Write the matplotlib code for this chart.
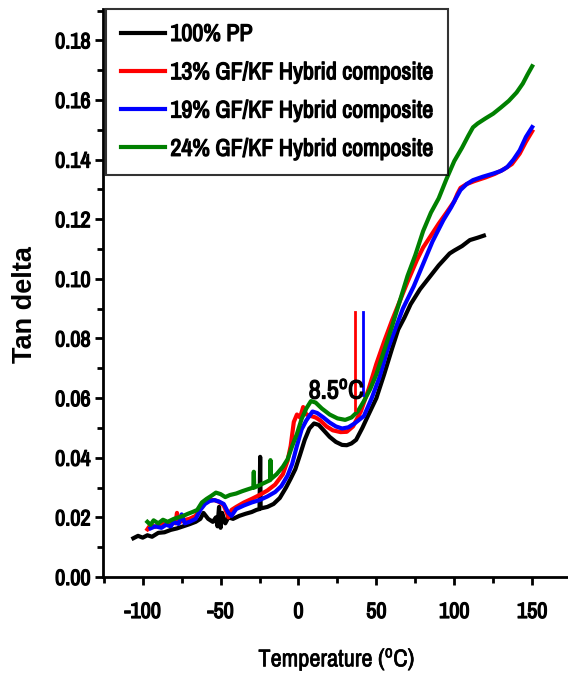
import matplotlib
matplotlib.use("Agg")
import matplotlib.pyplot as plt
import matplotlib.patheffects as pe
from matplotlib import font_manager
from matplotlib.ticker import MultipleLocator

# ---------------- data ----------------
labels = ["100% PP", "13% GF/KF Hybrid composite",
          "19% GF/KF Hybrid composite", "24% GF/KF Hybrid composite"]
colors = ["black", "red", "blue", "green"]

pp_T = [-106, -103, -100, -97, -94, -90, -86, -82, -78, -74, -70, -66, -63, -61,
        -58, -55, -53, -52, -51, -50, -49, -47, -45, -42, -38, -34, -30, -27, -25,
        -24.6, -24.3, -20, -16, -12, -8, -5, -2, 1, 4, 7, 10, 13, 16, 20, 24, 28,
        31, 34, 37, 41, 45, 50, 55, 60, 64, 68, 72, 78, 84, 90, 97, 100, 105, 110,
        115, 119]
pp_v = [0.0130, 0.0138, 0.0132, 0.0140, 0.0135, 0.0148, 0.0150, 0.0158, 0.0163,
        0.0170, 0.0177, 0.0185, 0.0195, 0.0215, 0.0195, 0.0185, 0.0200, 0.0170,
        0.0235, 0.0165, 0.0215, 0.0180, 0.0200, 0.0195, 0.0205, 0.0212, 0.0218,
        0.0225, 0.0228, 0.0403, 0.0230, 0.0235, 0.0245, 0.0265, 0.0300, 0.0330,
        0.0362, 0.0410, 0.0460, 0.0498, 0.0515, 0.0510, 0.0493, 0.0470, 0.0453,
        0.0443, 0.0442, 0.0448, 0.0460, 0.0500, 0.0545, 0.0600, 0.0680, 0.0765,
        0.0830, 0.0870, 0.0915, 0.0965, 0.1005, 0.1045, 0.1085, 0.1095, 0.1110,
        0.1130, 0.1138, 0.1145]

gf13_T = [-97, -95, -92, -88, -85, -82, -79, -78, -77, -74, -70, -66, -63, -60,
          -57, -54, -51, -48, -46, -45, -43, -40, -35, -30, -25, -20, -15, -10,
          -7, -5, -3, -1, 1, 3, 5, 8, 11, 14, 18, 22, 27, 31, 35, 40, 45, 50, 55,
          60, 65, 70, 76, 80, 85, 90, 95, 100, 102, 104, 108, 113, 120, 126, 132,
          137, 142, 146, 150]
gf13_v = [0.0160, 0.0175, 0.0168, 0.0180, 0.0175, 0.0185, 0.0180, 0.0215, 0.0182,
          0.0190, 0.0195, 0.0205, 0.0235, 0.0250, 0.0258, 0.0258, 0.0252, 0.0240,
          0.0215, 0.0200, 0.0225, 0.0235, 0.0250, 0.0262, 0.0275, 0.0290, 0.0310,
          0.0345, 0.0390, 0.0440, 0.0520, 0.0545, 0.0535, 0.0570, 0.0545, 0.0540,
          0.0535, 0.0525, 0.0505, 0.0492, 0.0486, 0.0487, 0.0505, 0.0555, 0.0630,
          0.0715, 0.0790, 0.0860, 0.0925, 0.0990, 0.1063, 0.1105, 0.1145, 0.1185,
          0.1222, 0.1260, 0.1285, 0.1305, 0.1318, 0.1328, 0.1340, 0.1352, 0.1368,
          0.1385, 0.1420, 0.1460, 0.1495]

gf19_T = [-95, -92, -88, -85, -82, -80, -77, -75, -73, -70, -66, -63, -60, -57,
          -54, -51, -48, -45, -43, -40, -35, -30, -25, -20, -15, -11, -7, -4, -1,
          2, 5, 9, 12, 16, 20, 24, 28, 32, 36, 42, 47, 52, 57, 62, 67, 74, 80, 86,
          93, 98, 101, 104, 108, 112, 118, 125, 130, 134, 138, 142, 146, 150]
gf19_v = [0.0163, 0.0170, 0.0165, 0.0175, 0.0170, 0.0185, 0.0178, 0.0210, 0.0180,
          0.0185, 0.0195, 0.0225, 0.0245, 0.0255, 0.0258, 0.0253, 0.0245, 0.0215,
          0.0205, 0.0228, 0.0240, 0.0250, 0.0258, 0.0270, 0.0285, 0.0305, 0.0340,
          0.0380, 0.0440, 0.0495, 0.0525, 0.0555, 0.0550, 0.0535, 0.0518, 0.0505,
          0.0498, 0.0502, 0.0515, 0.0540, 0.0600, 0.0670, 0.0760, 0.0830, 0.0900,
          0.0975, 0.1050, 0.1125, 0.1197, 0.1240, 0.1270, 0.1298, 0.1318, 0.1331,
          0.1342, 0.1353, 0.1362, 0.1375, 0.1400, 0.1431, 0.1476, 0.1509]

gf24_T = [-97, -95, -93, -90, -87, -84, -80, -77, -74, -71, -68, -65, -62, -59,
          -56, -53, -50, -47, -44, -40, -36, -32, -29, -28.7, -28.4, -25, -21,
          -18.2, -18, -17.8, -14, -10, -7, -4, -1, 2, 5, 8, 11, 15, 20, 25, 30, 34,
          38, 42, 46, 50, 55, 60, 65, 70, 75, 80, 85, 90, 95, 100, 105, 109, 112,
          115, 120, 125, 130, 135, 140, 144, 147, 150]
gf24_v = [0.0185, 0.0175, 0.0190, 0.0180, 0.0192, 0.0185, 0.0195, 0.0200, 0.0205,
          0.0212, 0.0218, 0.0225, 0.0250, 0.0262, 0.0272, 0.0283, 0.0278, 0.0268,
          0.0275, 0.0280, 0.0288, 0.0295, 0.0300, 0.0353, 0.0300, 0.0308, 0.0318,
          0.0325, 0.0392, 0.0328, 0.0345, 0.0370, 0.0395, 0.0440, 0.0480, 0.0530,
          0.0565, 0.0590, 0.0585, 0.0565, 0.0545, 0.0532, 0.0527, 0.0535, 0.0555,
          0.0590, 0.0630, 0.0680, 0.0760, 0.0840, 0.0925, 0.1010, 0.1080, 0.1160,
          0.1222, 0.1270, 0.1335, 0.1395, 0.1440, 0.1480, 0.1508, 0.1521, 0.1538,
          0.1554, 0.1575, 0.1597, 0.1625, 0.1655, 0.1685, 0.1713]

series_T = [pp_T, gf13_T, gf19_T, gf24_T]
series_v = [pp_v, gf13_v, gf19_v, gf24_v]

# vertical marker lines near the Tg annotation
marker_T = [36.4, 41.1]
marker_lo = [0.056, 0.061]
marker_hi = [0.0888, 0.0888]
marker_colors = ["red", "blue"]
annot_text = "8.5$^{\\mathrm{o}}$C"
annot_xy = (24.5, 0.0625)

xticks = [-100, -50, 0, 50, 100, 150]
yticks = [0.00, 0.02, 0.04, 0.06, 0.08, 0.10, 0.12, 0.14, 0.16, 0.18]

# ---------------- fonts ----------------
_avail = {f.name for f in font_manager.fontManager.ttflist}
_cands = ["Liberation Sans Narrow", "Arial Narrow", "Archivo Narrow",
          "Pragati Narrow", "Roboto Condensed", "PT Sans Narrow",
          "Encode Sans Condensed", "Fira Sans Condensed", "IBM Plex Sans Condensed",
          "Open Sans Condensed", "Liberation Sans"]
NARROW = next((c for c in _cands if c in _avail), "DejaVu Sans")
WIDE = "Liberation Sans" if "Liberation Sans" in _avail else "DejaVu Sans"

plt.rcParams["font.family"] = [NARROW, "DejaVu Sans"]
plt.rcParams["mathtext.fontset"] = "custom"
plt.rcParams["mathtext.rm"] = NARROW
plt.rcParams["mathtext.it"] = NARROW
plt.rcParams["mathtext.bf"] = NARROW + ":bold"

BOLDEN = [pe.withStroke(linewidth=0.9, foreground="black")]
SEMIBOLD = [pe.withStroke(linewidth=0.45, foreground="black")]

# ---------------- figure ----------------
fig = plt.figure(figsize=(5.68, 6.83), dpi=100)
ax = fig.add_axes([0.1813, 0.1552, 0.8187, 0.8316])

for T, v, c, lab in zip(series_T, series_v, colors, labels):
    ax.plot(T, v, color=c, lw=3.0, label=lab, solid_joinstyle="round")

for xm, lo, hi, c in zip(marker_T, marker_lo, marker_hi, marker_colors):
    ax.plot([xm, xm], [lo, hi], color=c, lw=2.0)

ax.text(annot_xy[0], annot_xy[1], annot_text, fontsize=19, ha="center",
        va="center", path_effects=BOLDEN)

ax.set_xlim(-125.5, 173)
ax.set_ylim(0, 0.1905)
ax.set_xticks(xticks)
ax.set_yticks(yticks)
ax.set_xticklabels([str(t) for t in xticks])
ax.set_yticklabels(["%.2f" % t for t in yticks])
ax.xaxis.set_minor_locator(MultipleLocator(25))
ax.yaxis.set_minor_locator(MultipleLocator(0.01))

for s in ["top", "right"]:
    ax.spines[s].set_visible(False)
for s in ["left", "bottom"]:
    ax.spines[s].set_linewidth(2.0)

ax.tick_params(which="major", direction="out", length=6, width=2.0,
               labelsize=16)
ax.tick_params(which="minor", direction="out", length=4, width=2.0)
ax.tick_params(axis="x", which="major", pad=12)
ax.tick_params(axis="y", which="major", pad=3)
for lbl in ax.get_xticklabels() + ax.get_yticklabels():
    lbl.set_path_effects(BOLDEN)

ax.set_xlabel("Temperature ($^{\\mathrm{o}}$C)", fontsize=17.5,
              path_effects=SEMIBOLD)
ax.xaxis.set_label_coords(0.503, -0.122)
ax.set_ylabel("Tan delta", fontsize=19.5, fontweight="bold",
              family=[WIDE, "DejaVu Sans"])
ax.yaxis.set_label_coords(-0.140, 0.479)

leg = ax.legend(loc="upper left", bbox_to_anchor=(0.006, 1.0),
                borderaxespad=0, fancybox=False, frameon=True,
                edgecolor="black", handlelength=1.85, handletextpad=0.22,
                labelspacing=0.72, borderpad=0.62,
                prop={"family": [NARROW, "DejaVu Sans"], "size": 17.3})
leg.get_frame().set_linewidth(1.5)
for h in leg.get_lines():
    h.set_linewidth(3.0)
for t in leg.get_texts():
    t.set_path_effects(BOLDEN)

fig.savefig("out.png", dpi=100)
